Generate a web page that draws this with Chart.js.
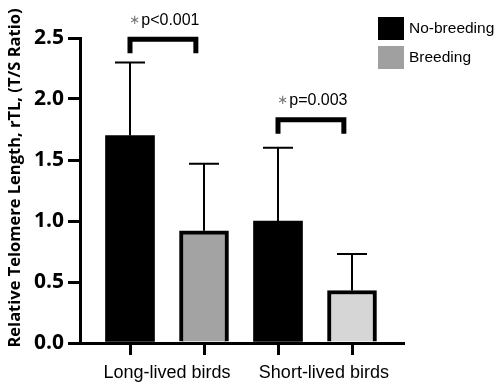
<!DOCTYPE html>
<html>
<head>
<meta charset="utf-8">
<script src="https://cdn.jsdelivr.net/npm/chart.js@4/dist/chart.umd.min.js"></script>
<style>
html,body{margin:0;padding:0;background:#fff;}
#wrap{width:498px;height:384px;position:relative;}
</style>
</head>
<body>
<div id="wrap"><canvas id="c"></canvas></div>
<script>
// ---- data ----
const categories = ['Long-lived birds', 'Short-lived birds'];
const seriesNames = ['No-breeding', 'Breeding'];
const noBreedingMean = [1.70, 1.00];
const breedingMean = [0.92, 0.43];
const noBreedingErrTop = [2.30, 1.60];
const breedingErrTop = [1.47, 0.73];
const pLabels = ['p<0.001', 'p=0.003'];
const pLevels = [2.49, 1.83];
const yTicks = [0, 0.5, 1.0, 1.5, 2.0, 2.5];
const yTitle = 'Relative Telomere Length, rTL, (T/S Ratio)';

// ---- styles ----
const noBreedingColors = ['#000000', '#000000'];
const breedingColors = ['#a3a3a3', '#d6d6d6'];
const legendColors = ['#000000', '#a0a0a0'];

const barX = (g, s) => 2 * g + 1 + s;
const nbData = noBreedingMean.map((v, g) => ({x: barX(g, 0), y: v}));
const bData = breedingMean.map((v, g) => ({x: barX(g, 1), y: v}));
const labelPos = [1.5, 3.62];
const xTickVals = [1, labelPos[0], 2, 3, labelPos[1], 4];

const annot = {
  id: 'annot',
  afterDatasetsDraw(chart) {
    const ctx = chart.ctx, ys = chart.scales.y;
    [noBreedingErrTop, breedingErrTop].forEach((errs, di) => {
      const meta = chart.getDatasetMeta(di);
      meta.data.forEach((el, i) => {
        const yt = ys.getPixelForValue(errs[i]);
        ctx.save();
        ctx.strokeStyle = '#000';
        ctx.lineWidth = 2;
        ctx.beginPath();
        ctx.moveTo(el.x, el.y);
        ctx.lineTo(el.x, yt);
        ctx.moveTo(el.x - 15, yt);
        ctx.lineTo(el.x + 15, yt);
        ctx.stroke();
        ctx.restore();
      });
    });
  },
  afterDraw(chart) {
    const ctx = chart.ctx, xs = chart.scales.x, ys = chart.scales.y;
    // significance brackets
    pLabels.forEach((lab, g) => {
      const x1 = xs.getPixelForValue(barX(g, 0));
      const x2 = xs.getPixelForValue(barX(g, 0) + 0.89);
      const yTop = ys.getPixelForValue(pLevels[g]);
      ctx.save();
      ctx.strokeStyle = '#000';
      ctx.lineWidth = 5;
      ctx.lineJoin = 'miter';
      ctx.lineCap = 'butt';
      ctx.beginPath();
      ctx.moveTo(x1, yTop + 14);
      ctx.lineTo(x1, yTop);
      ctx.lineTo(x2, yTop);
      ctx.lineTo(x2, yTop + 14);
      ctx.stroke();
      const cx = (x1 + x2) / 2 + 1.5, cy = yTop - 19;
      ctx.font = '16px "Liberation Sans", Arial, sans-serif';
      ctx.textBaseline = 'middle';
      ctx.textAlign = 'left';
      const wP = ctx.measureText(lab).width;
      ctx.font = '13px "DejaVu Sans", sans-serif';
      const wA = ctx.measureText('\u2217').width;
      const total = wA + 1 + wP;
      const sx = cx - total / 2;
      ctx.fillStyle = '#777';
      ctx.fillText('\u2217', sx, cy);
      ctx.font = '16px "Liberation Sans", Arial, sans-serif';
      ctx.fillStyle = '#000';
      ctx.fillText(lab, sx + wA + 1, cy);
      ctx.restore();
    });
    // legend
    ctx.save();
    seriesNames.forEach((name, i) => {
      const y0 = 17 + i * 29;
      ctx.fillStyle = legendColors[i];
      ctx.fillRect(378, y0, 26, 23);
      ctx.fillStyle = '#000';
      ctx.font = '15.5px "Liberation Sans", Arial, sans-serif';
      ctx.textBaseline = 'middle';
      ctx.textAlign = 'left';
      ctx.fillText(name, 409, y0 + 12);
    });
    ctx.restore();
    // y title
    ctx.save();
    ctx.translate(15, 178);
    ctx.rotate(-Math.PI / 2);
    ctx.font = 'bold 16.5px "Open Sans", sans-serif';
    ctx.fillStyle = '#000';
    ctx.textAlign = 'center';
    ctx.textBaseline = 'middle';
    ctx.fillText(yTitle, 0, 0);
    ctx.restore();
  }
};

new Chart(document.getElementById('c'), {
  type: 'bar',
  data: {
    datasets: [
      {label: seriesNames[0], data: nbData, backgroundColor: noBreedingColors, borderColor: '#000', borderWidth: 0},
      {label: seriesNames[1], data: bData, backgroundColor: breedingColors, borderColor: '#000', borderWidth: 4, borderSkipped: 'bottom'}
    ]
  },
  options: {
    responsive: true,
    maintainAspectRatio: false,
    animation: false,
    events: [],
    grouped: false,
    barThickness: 49,
    layout: {padding: {top: 38, right: 95, left: 0, bottom: 0}},
    plugins: {legend: {display: false}, tooltip: {enabled: false}},
    scales: {
      x: {
        type: 'linear',
        min: 1 - 50 / 74,
        max: 4 + 51 / 74,
        offset: false,
        afterFit: s => { s.height = 41; },
        afterBuildTicks: s => { s.ticks = xTickVals.map(v => ({value: v})); },
        grid: {
          display: true, drawOnChartArea: false, offset: false,
          tickLength: 12, lineWidth: 3, tickWidth: 3,
          tickColor: c => (c.tick && Number.isInteger(c.tick.value)) ? '#000' : 'rgba(0,0,0,0)'
        },
        border: {display: true, width: 3, color: '#000'},
        ticks: {
          autoSkip: false, maxRotation: 0, minRotation: 0, padding: 7, color: '#000',
          font: {family: '"Liberation Sans", Arial, sans-serif', size: 18},
          callback: v => {
            const k = labelPos.indexOf(v);
            return k >= 0 ? categories[k] : '';
          }
        }
      },
      y: {
        min: 0, max: 2.5,
        afterFit: s => { s.width = 80; },
        afterBuildTicks: s => { s.ticks = yTicks.map(v => ({value: v})); },
        grid: {display: true, drawOnChartArea: false, tickLength: 12, lineWidth: 3, tickWidth: 3, tickColor: '#000'},
        border: {display: true, width: 3, color: '#000'},
        ticks: {
          padding: 4, color: '#000',
          font: {family: '"Open Sans", sans-serif', size: 21, weight: 'bold'},
          callback: v => Number(v).toFixed(1)
        }
      }
    }
  },
  plugins: [annot]
});
</script>
</body>
</html>
